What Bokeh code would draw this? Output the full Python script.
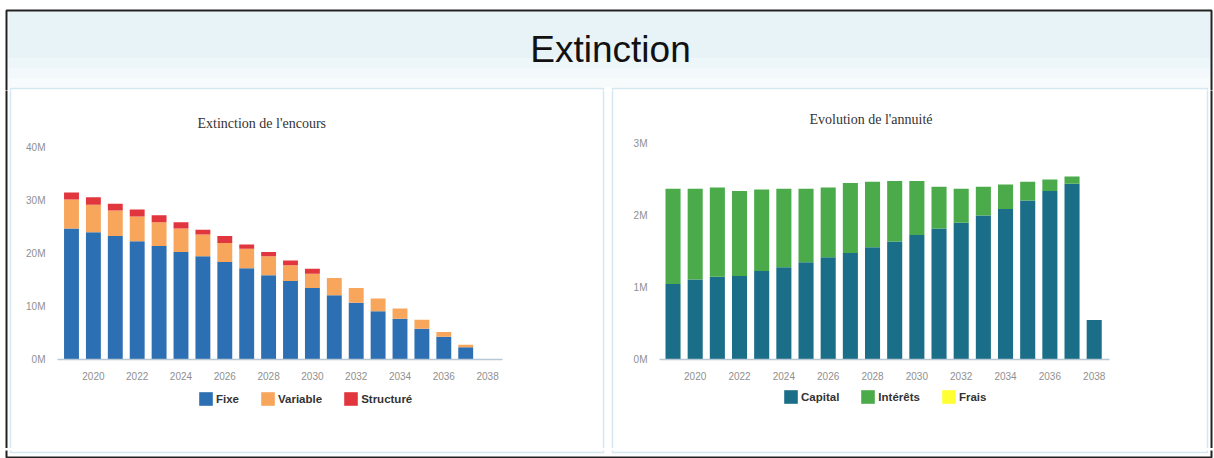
from bokeh.plotting import figure
from bokeh.models import (ColumnDataSource, Range1d, FixedTicker, Legend,
                          LegendItem, BoxAnnotation, Label)
from bokeh.layouts import column, row
from bokeh.embed import file_html
from bokeh.resources import INLINE

# ---- data (amounts in millions) ----
years = [2019, 2020, 2021, 2022, 2023, 2024, 2025, 2026, 2027, 2028,
         2029, 2030, 2031, 2032, 2033, 2034, 2035, 2036, 2037, 2038]

encours_fixe = [24.7, 24.0, 23.3, 22.3, 21.4, 20.3, 19.5, 18.4, 17.2, 15.9,
                14.8, 13.5, 12.1, 10.7, 9.1, 7.7, 5.8, 4.3, 2.3, 0.1]
encours_variable = [5.5, 5.2, 4.8, 4.7, 4.5, 4.4, 4.1, 3.6, 3.7, 3.6,
                    3.0, 2.7, 3.3, 2.8, 2.4, 1.9, 1.7, 0.9, 0.5, 0.0]
encours_structure = [1.3, 1.4, 1.3, 1.3, 1.3, 1.2, 0.9, 1.3, 0.8, 0.8,
                     0.9, 0.9, 0.0, 0.0, 0.0, 0.0, 0.0, 0.0, 0.0, 0.0]

annuite_capital = [1.05, 1.11, 1.15, 1.16, 1.23, 1.28, 1.35, 1.42, 1.48, 1.56,
                   1.64, 1.73, 1.82, 1.90, 2.00, 2.09, 2.21, 2.34, 2.44, 0.55]
annuite_interets = [1.32, 1.26, 1.24, 1.18, 1.13, 1.09, 1.02, 0.97, 0.97, 0.91,
                    0.84, 0.75, 0.58, 0.47, 0.40, 0.34, 0.26, 0.16, 0.10, 0.00]
annuite_frais = [0.0, 0.0, 0.0, 0.0, 0.0, 0.0, 0.0, 0.0, 0.0, 0.0,
                 0.0, 0.0, 0.0, 0.0, 0.0, 0.0, 0.0, 0.0, 0.0, 0.0]

year_ticks = [2020, 2022, 2024, 2026, 2028, 2030, 2032, 2034, 2036, 2038]
year_labels = ["2020", "2022", "2024", "2026", "2028", "2030", "2032", "2034", "2036", "2038"]
encours_ticks = [0, 10, 20, 30, 40]
encours_labels = ["0M", "10M", "20M", "30M", "40M"]
annuite_ticks = [0, 1, 2, 3]
annuite_labels = ["0M", "1M", "2M", "3M"]

main_title = "Extinction"
encours_title = "Extinction de l'encours"
annuite_title = "Evolution de l'annuité"

encours_names = ["Fixe", "Variable", "Structuré"]
encours_colors = ["#2c6fb3", "#f7a65c", "#e2363f"]
annuite_names = ["Capital", "Intérêts", "Frais"]
annuite_colors = ["#1b6e87", "#4bab4b", "#ffff33"]

# ---- page geometry ----
W, H = 1214, 458
HEADER_H = 90
FOOTER_H = 10
ROW_H = H - HEADER_H - FOOTER_H          # 358
CHART_H = 295
LEGEND_H = ROW_H - CHART_H               # 63
EDGE_W = 12
MID_W = 14
CHART_W = (W - 2 * EDGE_W - MID_W) // 2  # 588
DARK = "#222222"
PANEL_LINE = "#d3e8f0"


def strip(width, height):
    """Plain canvas whose frame fills it, with pixel-like coordinates (y down)."""
    s = figure(width=width, height=height, output_backend="svg",
               toolbar_location=None, x_range=Range1d(0, width),
               y_range=Range1d(height, 0), x_axis_location=None,
               y_axis_location=None, min_border=0)
    s.grid.visible = False
    s.outline_line_color = None
    s.border_fill_color = "white"
    s.background_fill_color = "white"
    return s


def edge_line(s, left, right, top, bottom, color, width):
    s.add_layout(BoxAnnotation(left=left, right=right, top=top, bottom=bottom,
                               fill_alpha=0, line_color=color, line_alpha=1,
                               line_width=width))


def band(s, left, right, top, bottom, color):
    s.add_layout(BoxAnnotation(left=left, right=right, top=top, bottom=bottom,
                               fill_color=color, fill_alpha=1, line_color=None))


def chart(x_range, y_end, left, right, top, frame_h, names, colors, values,
          ticks, labels, title, title_offset):
    p = figure(width=CHART_W, height=CHART_H, output_backend="svg",
               toolbar_location=None, x_range=Range1d(*x_range),
               y_range=Range1d(0, y_end), min_border_left=left,
               min_border_right=right, min_border_top=top,
               min_border_bottom=CHART_H - top - frame_h)
    p.title.text = title
    p.title.align = "left"
    p.title.offset = title_offset
    p.title.standoff = 33
    p.title.text_font = "Liberation Serif"
    p.title.text_font_size = "14px"
    p.title.text_font_style = "normal"
    p.title.text_color = "#333333"

    p.xaxis.ticker = FixedTicker(ticks=year_ticks)
    p.xaxis.major_label_overrides = {t: l for t, l in zip(year_ticks, year_labels)}
    p.yaxis.ticker = FixedTicker(ticks=ticks)
    p.yaxis.major_label_overrides = {t: l for t, l in zip(ticks, labels)}
    for ax in (p.xaxis[0], p.yaxis[0]):
        ax.major_tick_line_color = None
        ax.minor_tick_line_color = None
        ax.major_tick_out = 0
        ax.major_tick_in = 0
        ax.minor_tick_out = 0
        ax.major_label_text_color = "#8f8f8f"
        ax.major_label_text_font = "Liberation Sans"
        ax.major_label_text_font_size = "10px"
    p.xaxis.axis_line_color = "#b8c8d4"
    p.xaxis.axis_line_width = 1.5
    p.xaxis.major_label_standoff = 12
    p.yaxis.axis_line_color = None
    p.yaxis.major_label_standoff = 12
    p.xgrid.visible = False
    p.ygrid.visible = False
    p.outline_line_color = None
    p.border_fill_color = "white"

    src = ColumnDataSource(dict(year=years, **{n: v for n, v in zip(names, values)}))
    p.vbar_stack(names, x="year", width=0.68, color=colors,
                 line_color=None, source=src)
    return p


def legend_strip(names, colors, legend_xy):
    s = strip(CHART_W, LEGEND_H)
    items = []
    for n, c in zip(names, colors):
        # a bar series without a drawable value, used only for the legend swatch
        r = s.vbar(x=[float("nan")], top=[float("nan")], width=0.5,
                   fill_color=c, line_color=None)
        items.append(LegendItem(label=n, renderers=[r]))
    leg = Legend(items=items, orientation="horizontal", location=legend_xy,
                 glyph_width=17, glyph_height=17, label_standoff=2, spacing=20,
                 padding=0, margin=0, label_height=17,
                 border_line_color=None, background_fill_alpha=0,
                 label_text_font="Liberation Sans", label_text_font_style="bold",
                 label_text_font_size="11.5px", label_text_color="#333333")
    s.add_layout(leg, "center")
    return s


# ---- header with the page title ----
hdr = strip(W, HEADER_H)
band(hdr, 8, 1210, 11, 58, "#e8f3f8")
band(hdr, 8, 1210, 58, 68, "#edf6f9")
band(hdr, 8, 1210, 68, 78, "#f2f8fb")
band(hdr, 8, 1210, 78, 87, "#f7fbfc")
edge_line(hdr, 10, 603, 88, 300, PANEL_LINE, 1.5)
edge_line(hdr, 612, 1207, 88, 300, PANEL_LINE, 1.5)
edge_line(hdr, 6, 1211, 10, 300, DARK, 2)
hdr.add_layout(Label(x=610, y=49, text=main_title, text_align="center",
                     text_baseline="middle", text_font="Liberation Sans",
                     text_font_size="37px", text_color="#111111"))

# ---- the two charts with their legends ----
left = chart((2018.361, 2038.68), 40, 45, 98, 57, 212, encours_names, encours_colors,
             [encours_fixe, encours_variable, encours_structure],
             encours_ticks, encours_labels, encours_title, 140)
left_leg = legend_strip(encours_names, encours_colors, (140, 41))

right = chart((2018.39, 2038.69), 3, 45, 93, 53, 216, annuite_names, annuite_colors,
              [annuite_capital, annuite_interets, annuite_frais],
              annuite_ticks, annuite_labels, annuite_title, 150)
right_leg = legend_strip(annuite_names, annuite_colors, (123, 43))

# ---- side, middle and bottom edges of the panels ----
edge_l = strip(EDGE_W, ROW_H)
edge_line(edge_l, 6, 100, -100, 1000, DARK, 2)
edge_line(edge_l, 10, 100, -100, 1000, PANEL_LINE, 1.5)

mid = strip(MID_W, ROW_H)
edge_line(mid, -100, 3, -100, 1000, PANEL_LINE, 1.5)
edge_line(mid, 12, 100, -100, 1000, PANEL_LINE, 1.5)

edge_r = strip(EDGE_W, ROW_H)
edge_line(edge_r, -100, 5, -100, 1000, PANEL_LINE, 1.5)
edge_line(edge_r, -100, 9, -100, 1000, DARK, 2)

foot = strip(W, FOOTER_H)
edge_line(foot, 10, 603, -100, 2, PANEL_LINE, 1.5)
edge_line(foot, 612, 1207, -100, 2, PANEL_LINE, 1.5)
edge_line(foot, 6, 1211, -100, 7, DARK, 2)

page = column(
    hdr,
    row(edge_l, column(left, left_leg, spacing=0), mid,
        column(right, right_leg, spacing=0), edge_r, spacing=0),
    foot, spacing=0)
open("out.html", "w").write(file_html(page, INLINE))
